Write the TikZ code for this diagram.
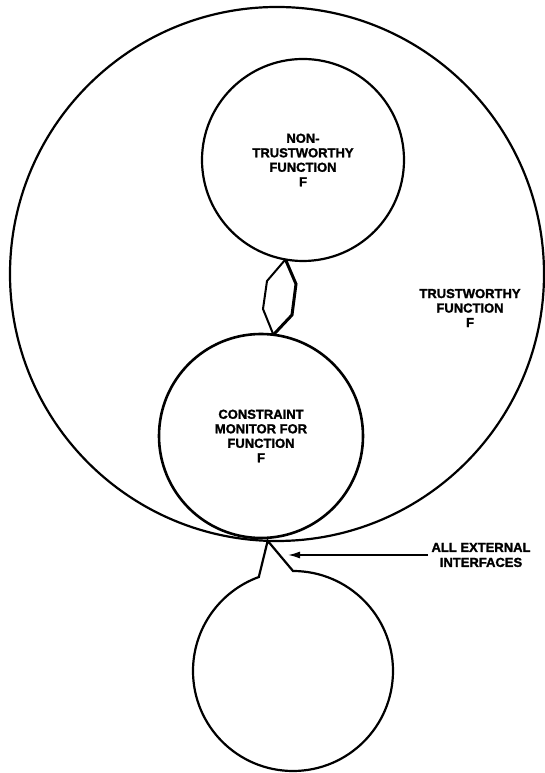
\documentclass[tikz,border=0pt]{standalone}
\usepackage{fontspec}
\setmainfont{Liberation Sans}[BoldFeatures={FakeBold=1.6}]
\usetikzlibrary{arrows.meta,calc}
\begin{document}
\begin{tikzpicture}[x=1pt,y=1pt,
  ring/.style={circle, draw=black, inner sep=0pt, outer sep=0pt, line width=2.2pt},
  caption/.style={align=center, font=\fontsize{13}{14.5}\selectfont\bfseries},
  neck/.style={draw=black, line width=2pt, line join=miter},
]
\fill[white] (0,0) rectangle (545,773);
\useasboundingbox (0,0) rectangle (545,773);

% the trustworthy function and what it contains
\node[ring, minimum size=534pt] (trusted) at (277,499) {};
\node[caption] (trustedtext) at (470,465) {TRUSTWORTHY\\FUNCTION\\F};
\node[ring, caption, minimum size=202pt] (untrusted) at (303,613)
  {NON-\\TRUSTWORTHY\\FUNCTION\\F};
\node[ring, caption, minimum size=204pt, line width=2.6pt] (monitor) at (261,337)
  {CONSTRAINT\\MONITOR FOR\\FUNCTION\\F};

% the outside world, joined through a single neck
\node[ring, draw=none, minimum size=200pt] (outside) at (293,102) {};
\coordinate (apex) at (trusted.268);

% hexagonal link between the untrusted function and its monitor
\draw[neck] (untrusted.260) -- (267,492) -- (263,464) -- (monitor.83);
\draw[neck, line width=3pt] (untrusted.260) -- (296,489) -- (292,458) -- (monitor.83);

% neck and outline of the outside circle
\draw[line width=2.2pt, line join=miter]
  (apex) -- (outside.90) arc[start angle=90, end angle=-250, radius=100pt] -- cycle;

% external interfaces label and arrow
\node[caption, font=\fontsize{13}{15}\selectfont\bfseries] (ext) at (481,218)
  {ALL EXTERNAL\\INTERFACES};
\coordinate (tip) at (288,218);
\draw[line width=1.5pt, -{Latex[length=12pt,width=7pt]}] (ext.west) -- (tip);
\end{tikzpicture}
\end{document}
